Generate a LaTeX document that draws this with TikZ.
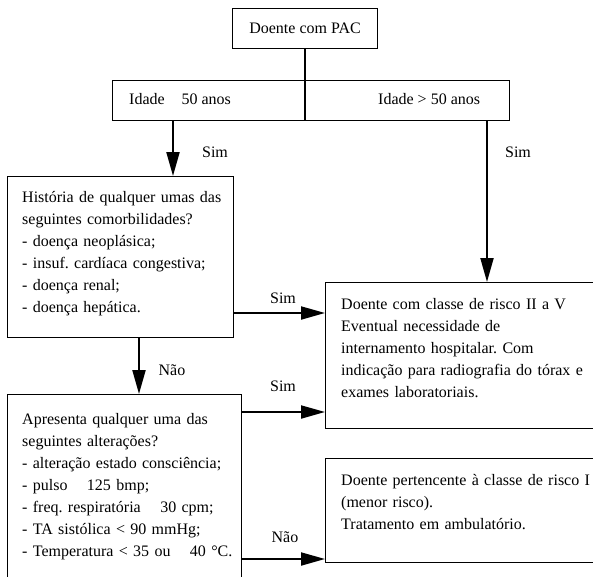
\documentclass[tikz,border=0pt]{standalone}
\usepackage{fontspec}
\setmainfont{Liberation Serif}
\usetikzlibrary{arrows.meta}

\tikzset{
  caixa/.style={draw, line width=1pt, anchor=north west, inner sep=0pt},
  texto/.style={anchor=north west, inner sep=0pt, align=left, text width=265pt,
    font=\fontsize{16}{22}\selectfont\frenchspacing},
  rotulo/.style={anchor=base, inner sep=0pt, font=\fontsize{16}{22}\selectfont},
  seta/.style={line width=2pt, -{Triangle[length=24pt,width=13pt]}},
}

\begin{document}
\begin{tikzpicture}[x=1pt,y=-1pt]
\clip (0,0) rectangle (593,576);
% caixas
\node[caixa, minimum width=145pt, minimum height=40pt, font=\fontsize{16}{22}\selectfont] (doente) at (232,8) {Doente com PAC};
\node[caixa, minimum width=397pt, minimum height=40pt] (idade) at (112,80) {};
\node[caixa, minimum width=226pt, minimum height=161pt] (hist) at (7,176) {};
\node[caixa, minimum width=234pt, minimum height=190pt] (apres) at (7,394) {};
\node[caixa, minimum width=280pt, minimum height=146pt] (risco) at (325,282) {};
\node[caixa, minimum width=280pt, minimum height=104pt] (riscoI) at (325,458) {};
% textos
\node[rotulo, anchor=base west] (idmenor) at (129,104) {Idade \phantom{≤} 50 anos};
\node[rotulo, anchor=base west] (idmaior) at (378,104) {Idade > 50 anos};
\node[texto] (histtxt) at (22,186.6) {\strut História de qualquer umas das\\
seguintes comorbilidades?\\
- doença neoplásica;\\
- insuf. cardíaca congestiva;\\
- doença renal;\\
- doença hepática.};
\node[texto] (aprestxt) at (22,408.6) {\strut Apresenta qualquer uma das\\
seguintes alterações?\\
- alteração estado consciência;\\
- pulso \phantom{≥} 125 bmp;\\
- freq. respiratória \phantom{≥} 30 cpm;\\
- TA sistólica < 90 mmHg;\\
- Temperatura < 35 ou \phantom{≥} 40 °C.};
\node[texto] (riscotxt) at (341,293.6) {\strut Doente com classe de risco II a V\\
Eventual necessidade de\\
internamento hospitalar. Com\\
indicação para radiografia do tórax e\\
exames laboratoriais.};
\node[texto] (riscoItxt) at (341,469.6) {\strut Doente pertencente à classe de risco I\\
(menor risco).\\
Tratamento em ambulatório.};
% ligacoes
\draw[line width=2pt] (doente.south) -- (doente.south |- idade.south);
\coordinate (esq) at (173,120);
\coordinate (dir) at (487,120);
\coordinate (nao1) at (139,337);
\coordinate (sim1) at (233,313);
\coordinate (sim2) at (241,412);
\coordinate (nao2) at (241,559);
\draw[seta] (esq) -- (esq |- hist.north);
\draw[seta] (dir) -- (dir |- risco.north);
\draw[seta] (nao1) -- (nao1 |- apres.north);
\draw[seta] (sim1) -- (sim1 -| risco.west);
\draw[seta] (sim2) -- (sim2 -| risco.west);
\draw[seta] (nao2) -- (nao2 -| riscoI.west);
% rotulos
\node[rotulo] (lsim1) at (215,157) {Sim};
\node[rotulo] (lsim2) at (518,157) {Sim};
\node[rotulo] (lnao1) at (172,375) {Não};
\node[rotulo] (lsim3) at (283,303) {Sim};
\node[rotulo] (lsim4) at (283,391) {Sim};
\node[rotulo] (lnao2) at (285,542) {Não};
\end{tikzpicture}
\end{document}
